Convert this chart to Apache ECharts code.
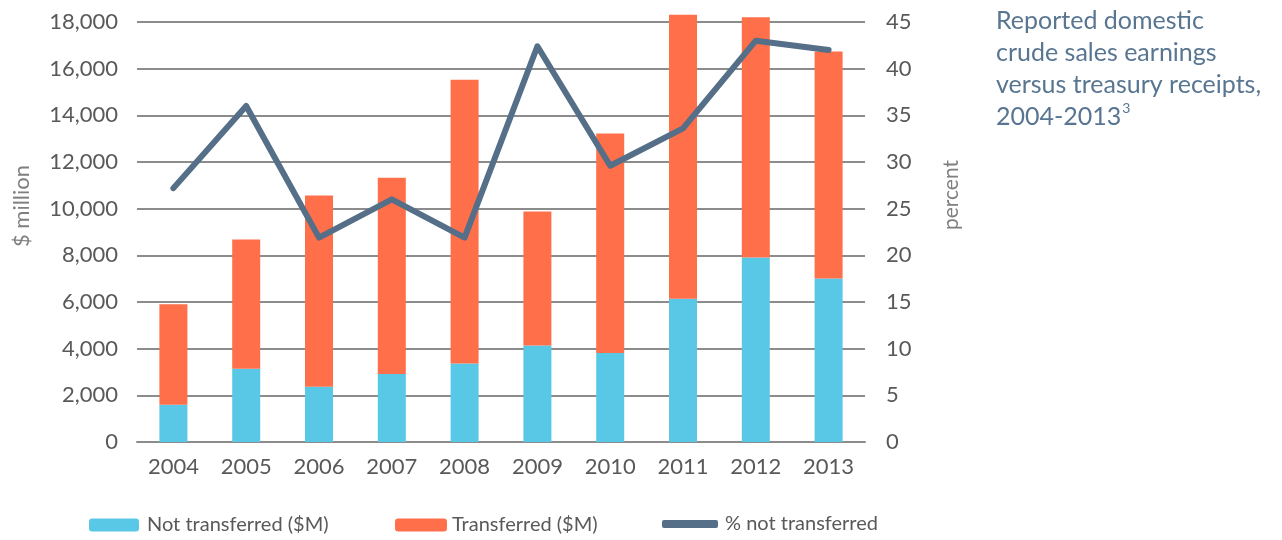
<!DOCTYPE html>
<html>
<head>
<meta charset="utf-8">
<script src="https://cdn.jsdelivr.net/npm/echarts@6/dist/echarts.min.js"></script>
<style>
  html, body { margin: 0; padding: 0; background: #fff; }
  #container { width: 1282px; height: 540px; }
</style>
</head>
<body>
<div id="container"></div>
<script>
var years = ['2004', '2005', '2006', '2007', '2008', '2009', '2010', '2011', '2012', '2013'];
var notTransferred = [1600, 3140, 2370, 2910, 3360, 4140, 3810, 6140, 7910, 7010];
var transferred = [4300, 5540, 8190, 8410, 12170, 5740, 9410, 12170, 10290, 9730];
var pctNotTransferred = [27.2, 36.0, 21.9, 26.0, 21.9, 42.4, 29.6, 33.6, 43.0, 42.0];

var dom = document.getElementById('container');
var myChart = echarts.init(dom);

var labelColor = '#595959';
var gridColor = '#8c8c8c';
var font = 'Lato';

var option = {
    animation: false,
    textStyle: { fontFamily: font },
    title: {
        left: 996,
        top: 5,
        padding: 0,
        text: 'Reported domestic\ncrude sales earnings\nversus treasury receipts,\n2004-2013{sup|3}',
        textStyle: {
            fontFamily: font,
            fontSize: 25,
            fontWeight: 'normal',
            color: '#587591',
            lineHeight: 32,
            rich: {
                sup: { fontSize: 14, color: '#587591', verticalAlign: 'top', lineHeight: 20, padding: [0, 0, 12, 1] }
            }
        }
    },
    legend: [
        {
            data: ['Not transferred ($M)'],
            left: 89, top: 515, padding: 0,
            itemWidth: 50, itemHeight: 13,
            textStyle: { fontSize: 20, color: labelColor, padding: [0, 0, 0, 3] }
        },
        {
            data: ['Transferred ($M)'],
            left: 395, top: 515, padding: 0,
            itemWidth: 52, itemHeight: 13,
            textStyle: { fontSize: 20, color: labelColor, padding: [0, 0, 0, 0] }
        },
        {
            data: [{ name: '% not transferred', icon: 'roundRect' }],
            left: 662, top: 514, padding: 0,
            itemWidth: 56, itemHeight: 8,
            textStyle: { fontSize: 20, color: labelColor, padding: [0, 0, 0, 2] }
        }
    ],
    grid: { left: 137, right: 417, top: 22, bottom: 98 },
    xAxis: {
        type: 'category',
        data: years,
        axisLine: { show: true, lineStyle: { color: gridColor, width: 2 } },
        axisTick: { show: false },
        axisLabel: { color: labelColor, fontSize: 22, margin: 14 }
    },
    yAxis: [
        {
            type: 'value',
            min: 0, max: 18000, interval: 2000,
            axisLine: { show: false },
            axisTick: { show: false },
            axisLabel: {
                color: labelColor, fontSize: 22, margin: 19,
                formatter: function (v) { return v.toLocaleString('en-US'); }
            },
            splitLine: { lineStyle: { color: gridColor, width: 2 } }
        },
        {
            type: 'value',
            min: 0, max: 45, interval: 5,
            axisLine: { show: false },
            axisTick: { show: false },
            axisLabel: { color: labelColor, fontSize: 22, margin: 21 },
            splitLine: { show: false }
        }
    ],
    graphic: [
        {
            type: 'text', x: 22, y: 206, rotation: Math.PI / 2,
            style: { text: '$ million', font: '22px Lato', fill: '#7f7f7f', align: 'center', verticalAlign: 'middle' }
        },
        {
            type: 'text', x: 951, y: 195, rotation: Math.PI / 2,
            style: { text: 'percent', font: '21px Lato', fill: '#7f7f7f', align: 'center', verticalAlign: 'middle' }
        }
    ],
    series: [
        {
            name: 'Not transferred ($M)',
            type: 'bar',
            stack: 'total',
            barWidth: 28,
            clip: false,
            itemStyle: { color: '#58c8e6' },
            data: notTransferred
        },
        {
            name: 'Transferred ($M)',
            type: 'bar',
            stack: 'total',
            barWidth: 28,
            clip: false,
            itemStyle: { color: '#ff6f4a' },
            data: transferred
        },
        {
            name: '% not transferred',
            type: 'line',
            yAxisIndex: 1,
            symbol: 'none',
            clip: false,
            itemStyle: { color: '#566f88' },
            lineStyle: { color: '#566f88', width: 6, cap: 'round', join: 'round' },
            data: pctNotTransferred
        }
    ]
};

myChart.setOption(option);
</script>
</body>
</html>
